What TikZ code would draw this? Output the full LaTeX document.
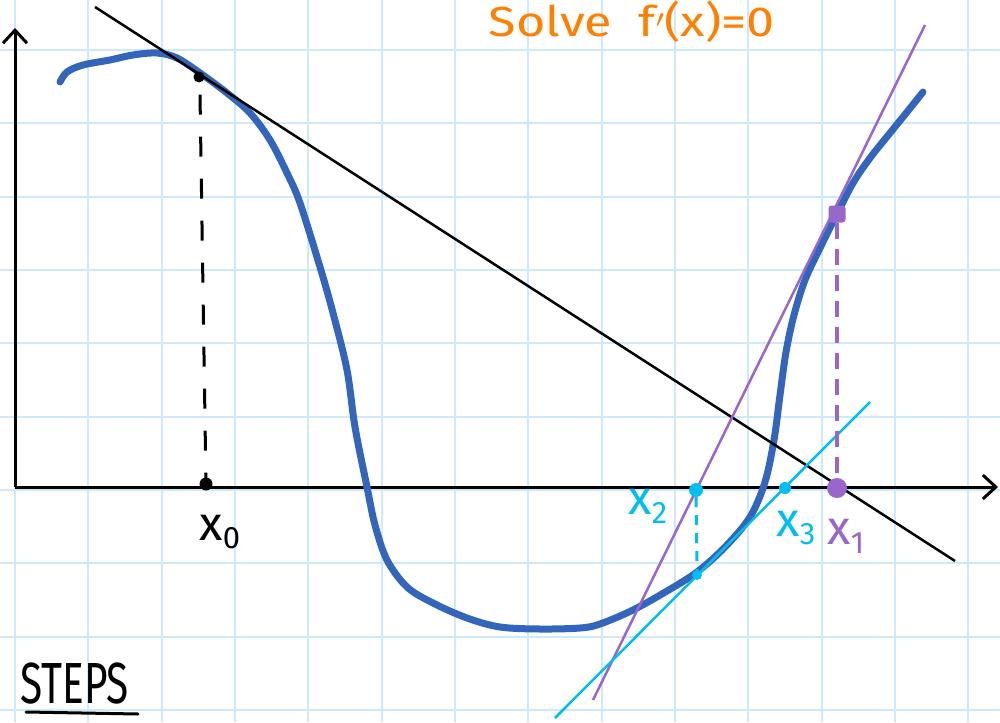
\documentclass[tikz,border=0pt]{standalone}
\usepackage{fontspec}
\setmainfont{Fira Sans}
\usetikzlibrary{arrows.meta}
\definecolor{gridc}{RGB}{206,234,250}
\definecolor{curvec}{RGB}{51,102,187}
\definecolor{purp}{RGB}{153,102,204}
\definecolor{cyanc}{RGB}{0,190,240}
\definecolor{orangec}{RGB}{255,127,0}
\tikzset{
  gridline/.style={gridc,line width=2pt},
  axis/.style={black,line width=3pt,-{Straight Barb[length=13pt,width=24pt,line width=3pt]}},
  fcurve/.style={curvec,line width=7pt,line cap=round,line join=round},
  tangent/.style={line width=2.5pt},
  dotnode/.style={circle,inner sep=0pt,minimum size=#1},
  lbl/.style={font=\fontsize{48}{48}\selectfont,inner sep=0pt},
}
\newcommand{\xsub}[1]{x\raisebox{-0.35ex}{\fontsize{31}{31}\selectfont #1}}
\begin{document}
\begin{tikzpicture}[x=1pt,y=-1pt]
\useasboundingbox (0,0) rectangle (1000,722);
\fill[white] (0,0) rectangle (1000,722);
% grid
\foreach \i in {0,...,13} \draw[gridline] ({15+73.33*\i},0) -- ++(0,722);
\foreach \j in {-1,...,9} \draw[gridline] (0,{50+73.33*\j}) -- ++(1000,0);
% axes
\coordinate (O) at (15,487);
\coordinate (xend) at (998,487);
\coordinate (yend) at (15,28);
\draw[axis] (O) -- (xend);
\draw[axis] (O) -- (yend);
% function curve
\draw[fcurve] plot[smooth,tension=0.55] coordinates {
(60,82) (67,72) (83,65) (110,60) (133,55) (157,53) (177,58) (200,73) (227,93)
(250,113) (270,140) (287,173) (300,203) (320,267) (333,313) (347,370) (355,427)
(367,487) (375,525) (387,560) (407,587) (433,603) (467,618) (500,627) (540,629)
(580,628) (600,624) (633,610) (667,591) (697,572) (725,547) (750,517) (765,482)
(774,440) (780,395) (786,352) (794,315) (805,280) (820,248) (837,214) (853,183)
(870,158) (890,133) (907,112) (923,92)};
% tangent lines
\coordinate (b1) at (95,7);
\coordinate (b2) at (955,561);
\draw[tangent,black] (b1) -- (b2);
\coordinate (p1) at (593,700);
\coordinate (p2) at (925,25);
\draw[tangent,purp] (p1) -- (p2);
\coordinate (c1) at (555,718);
\coordinate (c2) at (870,402);
\draw[tangent,cyanc] (c1) -- (c2);
% points
\node[dotnode=11pt,fill=black] (f0) at (199,77) {};
\node[dotnode=13pt,fill=black] (a0) at (206,484) {};
\draw[black,line width=3pt,dash pattern=on 20pt off 22pt] (f0.south) ++(1,12) -- ([yshift=-8pt]a0.north);
\node[dotnode=17pt,fill=purp,rectangle,rounded corners=3pt] (f1) at (837,214) {};
\node[dotnode=20pt,fill=purp] (a1) at (837,488) {};
\draw[purp,line width=3.5pt,dash pattern=on 16pt off 10pt] (f1.south) -- (a1.north);
\node[dotnode=14pt,fill=cyanc] (a2) at (696,490) {};
\node[dotnode=10pt,fill=cyanc] (f2) at (697,575) {};
\draw[cyanc,line width=3pt,dash pattern=on 10pt off 8pt] (a2.south) -- (f2.north);
\node[dotnode=12pt,fill=cyanc] (a3) at (785,488) {};
% labels
\node[lbl,black] (l0) at (220,532) {\xsub{0}};
\node[lbl,purp] (l1) at (846,536) {\xsub{1}};
\node[lbl,cyanc] (l2) at (648,506) {\xsub{2}};
\node[lbl,cyanc] (l3) at (796,528) {\xsub{3}};
\node[orangec,inner sep=0pt,font=\fontsize{42}{42}\selectfont,xscale=1.2] (title) at (632,22) {Solve\ \ f$'$(x)=0};
\node[black,inner sep=0pt,font=\fontsize{58}{58}\selectfont,xscale=0.7,anchor=base west] (steps) at (20,703) {STEPS};
\draw[black,line width=3pt,line cap=round] (26,712) -- (138,714);
\end{tikzpicture}
\end{document}
